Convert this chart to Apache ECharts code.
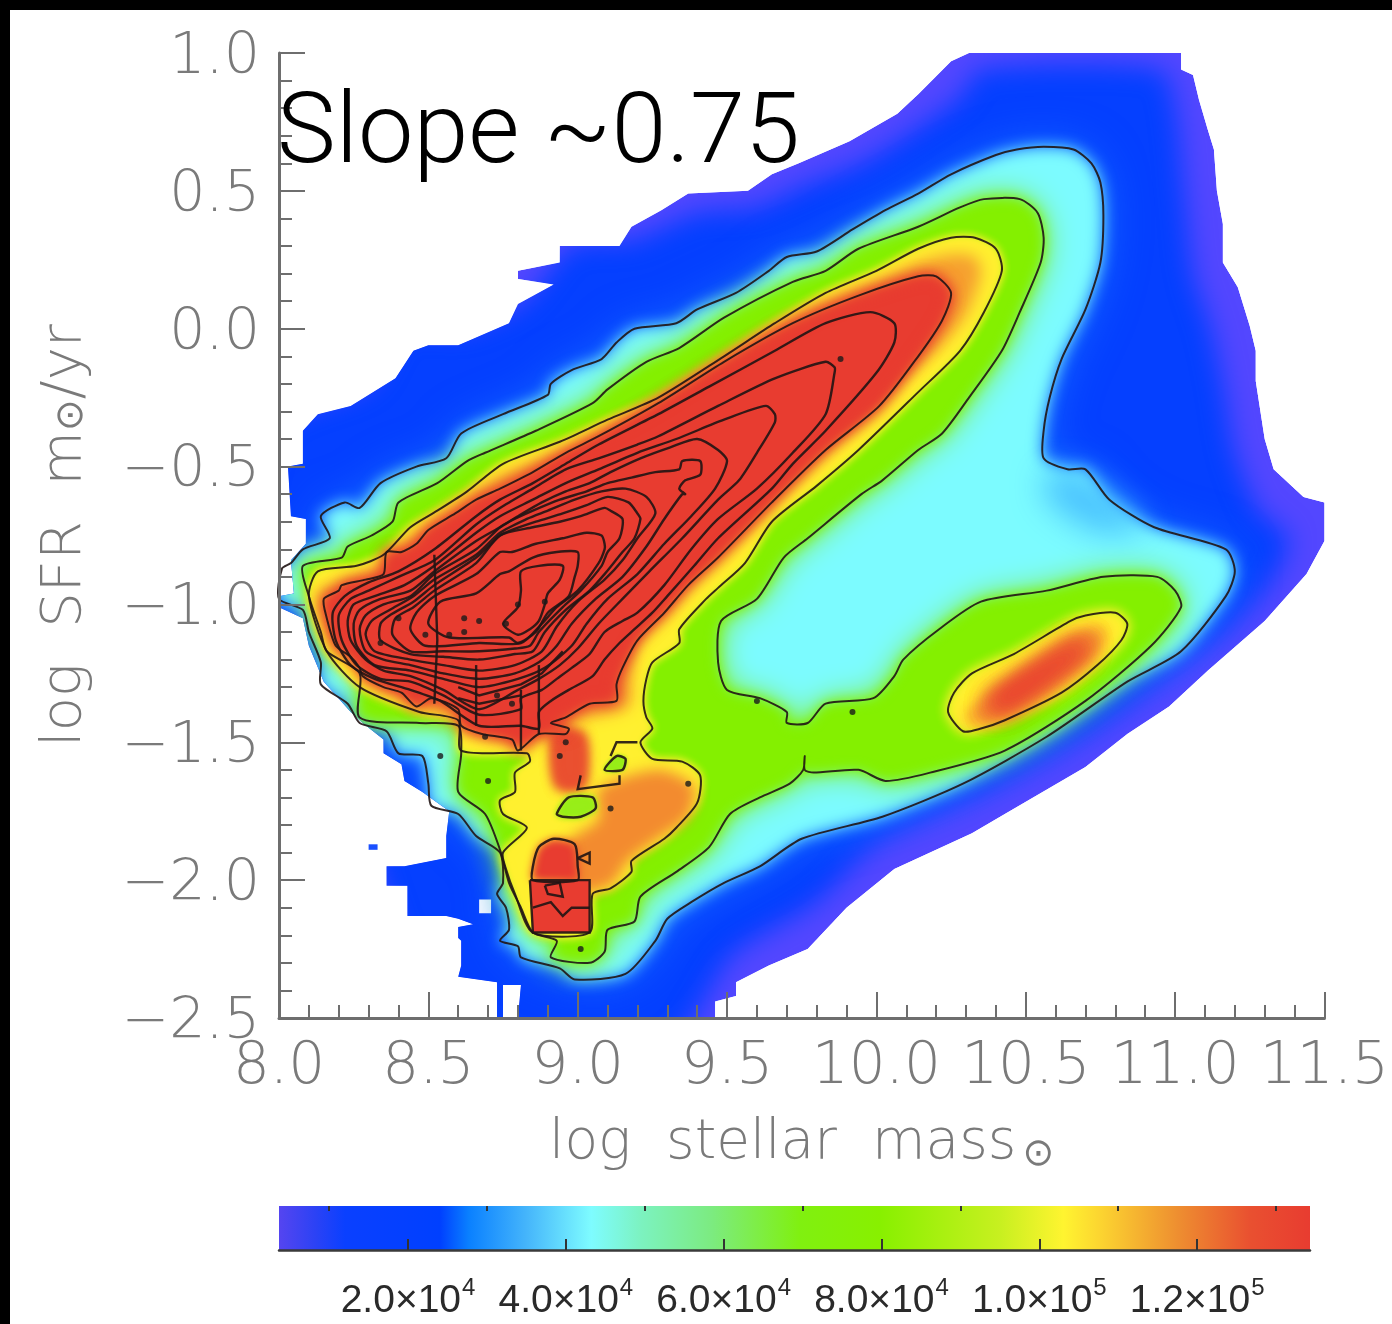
<!DOCTYPE html>
<html><head><meta charset="utf-8">
<style>html,body{margin:0;padding:0;background:#fff}#c{width:1392px;height:1324px}</style>
<script src="https://cdn.jsdelivr.net/npm/echarts@6/dist/echarts.min.js"></script>
</head><body><div id="c"></div>
<script>
// Data: [log stellar mass, log SFR]
const boundary=[[8.08,-.37],[8.13,-.31],[8.24,-.28],[8.39,-.18],[8.45,-.08],[8.50,-.06],[8.60,-.06],[8.77,.02],[8.80,.09],[8.92,.16],[8.80,.18],[8.80,.21],[8.94,.24],[8.94,.30],[9.14,.30],[9.18,.37],[9.28,.43],[9.37,.49],[9.57,.50],[9.65,.56],[9.74,.60],[9.91,.68],[10.07,.78],[10.14,.85],[10.25,.97],[10.31,1],[11.02,1],[11.02,.94],[11.06,.92],[11.08,.83],[11.11,.72],[11.13,.65],[11.14,.50],[11.16,.38],[11.16,.24],[11.21,.15],[11.25,.01],[11.27,-.08],[11.27,-.19],[11.30,-.40],[11.33,-.51],[11.43,-.61],[11.50,-.63],[11.50,-.77],[11.44,-.89],[11.30,-1.06],[11.11,-1.24],[10.98,-1.37],[10.84,-1.47],[10.70,-1.59],[10.43,-1.76],[10.32,-1.83],[10.06,-1.96],[9.90,-2.10],[9.77,-2.25],[9.64,-2.31],[9.53,-2.37],[9.53,-2.42],[9.46,-2.44],[9.46,-2.50],[8.80,-2.50],[8.81,-2.38],[8.75,-2.38],[8.75,-2.50],[8.73,-2.50],[8.73,-2.37],[8.60,-2.35],[8.61,-2.31],[8.61,-2.22],[8.60,-2.21],[8.60,-2.17],[8.65,-2.16],[8.60,-2.14],[8.56,-2.13],[8.43,-2.13],[8.43,-2.02],[8.36,-2.02],[8.36,-1.95],[8.42,-1.95],[8.56,-1.92],[8.56,-1.84],[8.57,-1.75],[8.48,-1.68],[8.42,-1.64],[8.41,-1.58],[8.35,-1.54],[8.35,-1.49],[8.28,-1.43],[8.24,-1.39],[8.15,-1.28],[8.10,-1.15],[8.08,-1.05],[8.00,-1.01],[8.00,-.97],[8.05,-.96],[8.04,-.84],[8.09,-.78],[8.09,-.69],[8.04,-.68],[8.03,-.50],[8.08,-.49]];
const blueCore=[[8.0,-.35],[8.3,-.2],[8.42,0],[8.62,0],[8.82,.1],[8.98,.3],[9.18,.32],[9.4,.42],[9.6,.44],[9.76,.52],[9.95,.6],[10.1,.7],[10.28,.84],[10.35,.94],[10.95,.94],[11.0,.8],[11.03,.5],[11.06,.2],[11.12,0],[11.16,-.2],[11.2,-.45],[11.28,-.66],[11.38,-.76],[11.32,-.92],[11.17,-1.1],[11.0,-1.24],[10.75,-1.44],[10.4,-1.66],[10,-1.87],[9.8,-2.08],[9.52,-2.27],[9.3,-2.6],[8.6,-2.6],[8.4,-2.2],[8.3,-1.9],[8.0,-1.3],[7.9,-.9]];
const contour1=[[8.04,-.85],[8.08,-.80],[8.17,-.76],[8.14,-.68],[8.22,-.63],[8.27,-.65],[8.34,-.56],[8.46,-.50],[8.56,-.47],[8.61,-.38],[8.75,-.31],[8.90,-.24],[8.91,-.20],[8.98,-.15],[9.08,-.11],[9.13,-.05],[9.19,0],[9.33,.02],[9.40,.07],[9.53,.13],[9.64,.21],[9.70,.26],[9.80,.28],[9.92,.36],[10.03,.43],[10.14,.49],[10.25,.56],[10.40,.63],[10.47,.65],[10.56,.66],[10.66,.65],[10.72,.60],[10.75,.53],[10.76,.41],[10.75,.24],[10.70,.07],[10.62,-.11],[10.58,-.25],[10.56,-.37],[10.56,-.47],[10.64,-.51],[10.70,-.51],[10.78,-.62],[10.93,-.72],[11.17,-.80],[11.20,-.88],[11.17,-.97],[11.02,-1.17],[10.84,-1.28],[10.57,-1.48],[10.29,-1.65],[10.02,-1.77],[9.75,-1.85],[9.61,-1.95],[9.49,-2.01],[9.38,-2.08],[9.30,-2.14],[9.26,-2.22],[9.16,-2.34],[8.99,-2.36],[8.94,-2.32],[8.81,-2.28],[8.80,-2.24],[8.74,-2.22],[8.77,-2.18],[8.76,-2.10],[8.73,-2.05],[8.75,-2.01],[8.74,-1.90],[8.66,-1.84],[8.60,-1.76],[8.51,-1.73],[8.50,-1.65],[8.48,-1.55],[8.40,-1.54],[8.36,-1.46],[8.27,-1.43],[8.23,-1.36],[8.14,-1.29],[8.14,-1.21],[8.10,-1.10],[8.08,-1.02],[8.00,-.98],[8.01,-.87]];
const contour2=[[8.08,-.86],[8.21,-.83],[8.23,-.79],[8.31,-.75],[8.38,-.70],[8.40,-.63],[8.53,-.56],[8.63,-.48],[8.69,-.45],[8.86,-.37],[9.05,-.27],[9.10,-.22],[9.23,-.12],[9.34,-.07],[9.49,.04],[9.72,.17],[9.83,.21],[9.94,.29],[10.14,.37],[10.28,.44],[10.36,.47],[10.48,.47],[10.54,.42],[10.56,.33],[10.55,.24],[10.48,.06],[10.42,-.08],[10.31,-.25],[10.22,-.38],[10.14,-.44],[10.02,-.55],[9.95,-.60],[9.77,-.76],[9.69,-.83],[9.60,-.98],[9.48,-1.06],[9.47,-1.21],[9.50,-1.31],[9.61,-1.34],[9.70,-1.39],[9.70,-1.43],[9.77,-1.43],[9.83,-1.36],[9.99,-1.34],[10.06,-1.26],[10.09,-1.20],[10.21,-1.09],[10.35,-.99],[10.57,-.95],[10.76,-.90],[10.94,-.90],[11.00,-.95],[11.02,-1.01],[10.92,-1.15],[10.70,-1.35],[10.43,-1.53],[10.18,-1.61],[10.03,-1.64],[9.94,-1.60],[9.79,-1.61],[9.76,-1.60],[9.76,-1.55],[9.755,-1.60],[9.71,-1.65],[9.61,-1.70],[9.51,-1.76],[9.44,-1.88],[9.33,-1.97],[9.21,-2.06],[9.19,-2.15],[9.10,-2.18],[9.09,-2.26],[9.04,-2.30],[8.91,-2.28],[8.93,-2.22],[8.85,-2.19],[8.81,-2.10],[8.77,-2.01],[8.74,-1.89],[8.69,-1.76],[8.60,-1.68],[8.61,-1.54],[8.60,-1.44],[8.47,-1.43],[8.27,-1.41],[8.27,-1.25],[8.16,-1.17],[8.14,-1.10],[8.10,-.97]];
const contour3=[[9.47,-.94],[9.43,-.98],[9.34,-1.09],[9.34,-1.14],[9.25,-1.21],[9.23,-1.27],[9.22,-1.35],[9.23,-1.41],[9.25,-1.45],[9.21,-1.50],[9.25,-1.56],[9.35,-1.57],[9.41,-1.62],[9.40,-1.72],[9.33,-1.81],[9.29,-1.85],[9.18,-1.93],[9.18,-1.97],[9.11,-2.03],[9.05,-2.05],[9.04,-2.19],[8.85,-2.19],[8.79,-2.05],[8.76,-1.96],[8.75,-1.90],[8.83,-1.81],[8.75,-1.76],[8.74,-1.71],[8.79,-1.68],[8.79,-1.61],[8.84,-1.57],[8.83,-1.54],[8.61,-1.53],[8.60,-1.42],[8.47,-1.39],[8.27,-1.30],[8.16,-1.17],[8.10,-.97],[8.13,-.88],[8.26,-.86],[8.35,-.82],[8.44,-.72],[8.53,-.66],[8.63,-.59],[8.75,-.49],[8.94,-.41],[9.10,-.33],[9.27,-.25],[9.49,-.10],[9.66,.02],[9.83,.13],[10.00,.21],[10.14,.29],[10.25,.33],[10.33,.33],[10.40,.29],[10.42,.21],[10.36,.06],[10.28,-.08],[10.14,-.23],[9.94,-.44],[9.80,-.57],[9.65,-.70],[9.56,-.85]];
const orangeBand=[[9.49,-.11],[9.66,.01],[9.83,.10],[10.0,.17],[10.14,.24],[10.25,.27],[10.33,.26],[10.35,.2],[10.30,.05],[10.2,-.08],[10.06,-.2],[9.88,-.38],[9.72,-.55],[9.55,-.74],[9.42,-.86],[9.3,-1.0],[9.2,-1.1],[9.18,-1.25],[9.17,-1.37],[9.0,-1.42],[8.8,-1.5],[8.6,-1.43],[8.4,-1.33],[8.2,-1.16],[8.13,-.96],[8.3,-.88],[8.42,-.77],[8.55,-.67],[8.75,-.53],[9.0,-.42],[9.27,-.26]];
const contour4=[[10.14,-.10],[10.01,-.28],[9.83,-.44],[9.65,-.63],[9.47,-.83],[9.37,-.93],[9.29,-1.03],[9.20,-1.13],[9.15,-1.23],[9.13,-1.29],[9.13,-1.35],[9.04,-1.36],[8.96,-1.41],[8.91,-1.43],[8.97,-1.45],[8.96,-1.47],[8.87,-1.47],[8.80,-1.53],[8.78,-1.49],[8.68,-1.47],[8.61,-1.44],[8.60,-1.38],[8.51,-1.34],[8.46,-1.37],[8.41,-1.32],[8.35,-1.30],[8.28,-1.26],[8.27,-1.23],[8.24,-1.19],[8.19,-1.15],[8.16,-1.05],[8.15,-.98],[8.20,-.95],[8.21,-.93],[8.29,-.91],[8.35,-.89],[8.36,-.81],[8.41,-.81],[8.46,-.78],[8.50,-.73],[8.59,-.67],[8.66,-.62],[8.74,-.58],[8.85,-.52],[8.96,-.45],[9.07,-.39],[9.27,-.27],[9.49,-.12],[9.72,.02],[9.94,.12],[10.14,.19],[10.20,.19],[10.25,.13],[10.22,.03]];
const passiveBlob=[[10.29,-1.46],[10.24,-1.39],[10.26,-1.32],[10.32,-1.25],[10.46,-1.18],[10.65,-1.06],[10.70,-1.04],[10.80,-1.03],[10.84,-1.07],[10.82,-1.13],[10.74,-1.22],[10.62,-1.32],[10.43,-1.42],[10.35,-1.45]];
const passiveBand=[[10.3,-1.42],[10.45,-1.28],[10.65,-1.13],[10.76,-1.09],[10.73,-1.17],[10.55,-1.33],[10.38,-1.42]];
const passivePeak=[[10.38,-1.36],[10.54,-1.24],[10.70,-1.13],[10.71,-1.15],[10.55,-1.28],[10.39,-1.39]];
const orangeLobe=[[9.07,-1.67],[9.27,-1.60],[9.39,-1.66],[9.37,-1.77],[9.27,-1.85],[9.17,-1.93],[9.11,-2.02],[8.97,-2.04],[8.97,-1.86],[9.07,-1.78]];
const orangeColumn=[[8.92,-1.47],[9.02,-1.47],[9.02,-1.66],[8.93,-1.66]];
const redSquare=[[8.84,-2.00],[9.04,-2.00],[9.04,-2.19],[8.85,-2.19],[8.84,-2.00]];
const redBlob=[[8.85,-2.00],[8.85,-1.95],[8.87,-1.88],[8.92,-1.85],[8.99,-1.87],[9.00,-1.95],[9.00,-2.00]];
const greenHoleA=[[8.93,-1.76],[8.97,-1.70],[9.05,-1.70],[9.06,-1.74],[9.01,-1.77],[8.95,-1.77]];
const greenHoleB=[[9.09,-1.60],[9.13,-1.55],[9.16,-1.56],[9.15,-1.60]];
const paleNotch=[[10.57,-.52],[10.70,-.53],[10.90,-.72],[10.74,-.74],[10.57,-.62]];
const whitePatch=[[8.67,-2.07],[8.71,-2.07],[8.71,-2.12],[8.67,-2.12]];
const ring1=[[10.06,.02],[9.98,.06],[9.83,.02],[9.66,-.08],[9.44,-.21],[9.27,-.31],[9.07,-.42],[8.96,-.49],[8.85,-.56],[8.74,-.62],[8.66,-.68],[8.52,-.80],[8.40,-.88],[8.30,-.92],[8.22,-.97],[8.18,-1.03],[8.19,-1.13],[8.24,-1.22],[8.32,-1.27],[8.44,-1.31],[8.54,-1.35],[8.67,-1.44],[8.81,-1.44],[8.87,-1.45],[8.87,-1.39],[8.91,-1.35],[8.97,-1.31],[9.05,-1.26],[9.09,-1.20],[9.14,-1.14],[9.19,-1.09],[9.25,-1.03],[9.30,-.97],[9.39,-.86],[9.47,-.76],[9.65,-.58],[9.72,-.49],[9.83,-.37],[10.00,-.16],[10.06,-.05]];
const ring2=[[9.86,-.14],[9.83,-.12],[9.66,-.18],[9.47,-.28],[9.27,-.39],[9.20,-.42],[9.07,-.47],[8.96,-.51],[8.85,-.58],[8.74,-.65],[8.66,-.71],[8.52,-.84],[8.40,-.90],[8.30,-.95],[8.24,-.98],[8.20,-1.04],[8.21,-1.13],[8.26,-1.22],[8.34,-1.27],[8.44,-1.28],[8.55,-1.33],[8.67,-1.40],[8.81,-1.38],[8.81,-1.34],[8.88,-1.31],[8.93,-1.27],[8.98,-1.23],[9.04,-1.18],[9.09,-1.10],[9.15,-1.06],[9.20,-1.03],[9.29,-.93],[9.38,-.80],[9.47,-.69],[9.60,-.58],[9.72,-.45],[9.83,-.31],[9.86,-.16]];
const ring3=[[9.66,-.31],[9.63,-.28],[9.49,-.33],[9.33,-.40],[9.20,-.45],[9.07,-.51],[8.96,-.56],[8.85,-.62],[8.74,-.68],[8.66,-.74],[8.52,-.86],[8.42,-.93],[8.32,-.97],[8.25,-1.00],[8.23,-1.06],[8.24,-1.13],[8.29,-1.20],[8.35,-1.24],[8.44,-1.26],[8.55,-1.31],[8.67,-1.38],[8.80,-1.31],[8.87,-1.27],[8.94,-1.22],[9.00,-1.16],[9.07,-1.07],[9.15,-.98],[9.24,-.88],[9.35,-.76],[9.47,-.62],[9.54,-.55],[9.60,-.45],[9.66,-.34]];
const ring4=[[9.50,-.48],[9.47,-.44],[9.40,-.40],[9.31,-.43],[9.21,-.47],[9.11,-.52],[9.04,-.56],[8.96,-.59],[8.88,-.63],[8.80,-.68],[8.74,-.72],[8.66,-.77],[8.52,-.88],[8.44,-.95],[8.34,-.98],[8.27,-1.02],[8.25,-1.07],[8.26,-1.15],[8.32,-1.22],[8.44,-1.24],[8.55,-1.27],[8.67,-1.30],[8.80,-1.27],[8.89,-1.23],[8.98,-1.15],[9.03,-1.07],[9.10,-.98],[9.20,-.89],[9.29,-.78],[9.38,-.68],[9.46,-.58]];
const ring5=[[9.34,-.51],[9.26,-.52],[9.18,-.54],[9.10,-.56],[9.03,-.59],[8.94,-.62],[8.85,-.66],[8.77,-.70],[8.74,-.72],[8.66,-.80],[8.52,-.89],[8.44,-.97],[8.35,-1.00],[8.29,-1.04],[8.27,-1.09],[8.29,-1.17],[8.35,-1.20],[8.44,-1.22],[8.55,-1.25],[8.67,-1.27],[8.79,-1.25],[8.87,-1.21],[8.93,-1.15],[8.98,-1.07],[9.06,-.98],[9.15,-.90],[9.23,-.79],[9.29,-.69],[9.35,-.60],[9.36,-.60],[9.34,-.58],[9.36,-.55],[9.41,-.53],[9.41,-.48],[9.35,-.48]];
const ring6=[[9.26,-.67],[9.23,-.61],[9.16,-.58],[9.08,-.59],[8.99,-.62],[8.90,-.66],[8.83,-.69],[8.74,-.74],[8.66,-.82],[8.52,-.91],[8.45,-.97],[8.37,-1.02],[8.31,-1.06],[8.29,-1.11],[8.32,-1.17],[8.44,-1.20],[8.55,-1.22],[8.67,-1.24],[8.79,-1.22],[8.88,-1.17],[8.93,-1.08],[9.00,-.99],[9.09,-.91],[9.15,-.84],[9.20,-.76]];
const ring7=[[9.20,-.67],[9.17,-.63],[9.10,-.61],[9.03,-.64],[8.95,-.67],[8.86,-.70],[8.78,-.73],[8.74,-.75],[8.66,-.83],[8.52,-.93],[8.45,-.99],[8.37,-1.04],[8.34,-1.07],[8.34,-1.13],[8.44,-1.18],[8.55,-1.19],[8.67,-1.20],[8.79,-1.18],[8.85,-1.17],[8.89,-1.10],[8.96,-1.02],[9.04,-.95],[9.09,-.89],[9.15,-.81],[9.19,-.76],[9.21,-.69]];
const ring8=[[9.15,-.69],[9.11,-.66],[9.09,-.65],[9.01,-.68],[8.94,-.70],[8.85,-.72],[8.74,-.75],[8.66,-.85],[8.52,-.95],[8.45,-1.01],[8.39,-1.05],[8.38,-1.11],[8.44,-1.17],[8.55,-1.17],[8.67,-1.17],[8.79,-1.16],[8.84,-1.15],[8.87,-1.10],[8.95,-1.01],[9.01,-.95],[9.08,-.86],[9.10,-.81],[9.14,-.76]];
const ring9=[[9.09,-.78],[9.08,-.75],[9.03,-.74],[8.95,-.76],[8.86,-.78],[8.78,-.81],[8.74,-.81],[8.66,-.89],[8.52,-.97],[8.46,-1.03],[8.44,-1.09],[8.49,-1.15],[8.67,-1.14],[8.81,-1.14],[8.88,-1.07],[8.93,-1.01],[9.00,-.95],[9.07,-.85],[9.09,-.80]];
const ring10=[[9.00,-.81],[8.93,-.81],[8.85,-.83],[8.77,-.88],[8.74,-.89],[8.66,-.96],[8.54,-.99],[8.50,-1.07],[8.57,-1.12],[8.77,-1.12],[8.80,-1.14],[8.86,-1.10],[8.90,-1.03],[8.97,-.97],[8.99,-.90],[9.00,-.86]];
const ring11=[[8.95,-.86],[8.87,-.86],[8.81,-.88],[8.81,-.95],[8.80,-1.01],[8.75,-1.07],[8.80,-1.11],[8.84,-1.09],[8.87,-1.06],[8.89,-1.00],[8.90,-.96],[8.94,-.91]];
const squareInnerA=[[8.85,-2.10],[8.91,-2.08],[8.95,-2.13],[8.98,-2.10],[9.04,-2.10]];
const squareInnerB=[[8.89,-2.02],[8.94,-2.01],[8.95,-2.06],[8.90,-2.05],[8.89,-2.02]];
const smallTriangle=[[9.00,-1.92],[9.04,-1.90],[9.04,-1.94],[9.00,-1.92]];
const lowA=[[8.60,-1.30],[8.67,-1.33],[8.81,-1.29],[8.88,-1.25],[8.95,-1.17]];
const lowB=[[8.60,-1.34],[8.67,-1.36],[8.81,-1.33]];
const stripeA=[[8.52,-.82],[8.53,-1.13],[8.52,-1.36]];
const stripeB=[[8.66,-1.22],[8.66,-1.44]];
const stripeC=[[8.81,-1.31],[8.81,-1.53]];
const stripeD=[[8.87,-1.22],[8.87,-1.47]];
const linkA=[[9.01,-1.62],[9.00,-1.67],[9.14,-1.65],[9.14,-1.62]];
const linkB=[[9.11,-1.55],[9.13,-1.50],[9.20,-1.50]];
const specks=[[8.40,-1.05],[8.34,-1.14],[8.49,-1.11],[8.57,-1.11],[8.62,-1.05],[8.67,-1.06],[8.62,-1.10],[8.80,-1.00],[8.89,-.99],[8.76,-1.07],[8.73,-1.33],[8.78,-1.36],[8.69,-1.48],[8.94,-1.55],[8.96,-1.50],[9.37,-1.65],[9.11,-1.74],[8.54,-1.55],[8.70,-1.64],[9.60,-1.35],[9.92,-1.39],[9.88,-.11],[9.01,-2.25]];
const blueSpeck=[[8.30,-1.87],[8.33,-1.87],[8.33,-1.89],[8.30,-1.89]];
const colorbarRange=[3650,134300];
const colorbarStops=[[0,'#5545f0'],[.036,'#2b42f5'],[.064,'#0a40ff'],[.156,'#0040ff'],[.184,'#0a80ff'],[.24,'#45b5fb'],[.303,'#7efcff'],[.351,'#7cf2c0'],[.42,'#7ceb80'],[.505,'#80f010'],[.583,'#88f000'],[.70,'#c8f020'],[.761,'#fff430'],[.796,'#fcd530'],[.871,'#ee8f30'],[.942,'#e95030'],[1,'#e83c30']];
const colorbarMajor=[20000,40000,60000,80000,100000,120000];
const colorbarMinor=[10000,30000,50000,70000,90000,110000,130000];

const fills=[
 {p:boundary,c:'#5347ff',b:0},
 {p:blueCore,c:'#0540ff',b:26},
 {p:whitePatch,c:'#ffffff',b:0},
 {p:contour1,c:'rgba(30,130,255,.75)',b:44},
 {p:contour1,c:'#7cfbff',b:15},
 {p:paleNotch,c:'rgba(70,190,255,.9)',b:30},
 {p:contour2,c:'#84f000',b:32},
 {p:contour2,c:'#84f000',b:14},
 {p:contour3,c:'#fff030',b:10},
 {p:contour3,c:'#fff030',b:10},
 {p:orangeBand,c:'#f6a030',b:15},
 {p:orangeLobe,c:'rgba(242,128,48,.9)',b:14},
 {p:orangeColumn,c:'#ea5030',b:12},
 {p:orangeColumn,c:'#ea5030',b:12},
 {p:contour4,c:'#e83c30',b:15},
 {p:contour4,c:'#e83c30',b:15},
 {p:redBlob,c:'#e83c30',b:8},
 {p:redSquare,c:'#e83c30',b:0},
 {p:greenHoleA,c:'#98ee18',b:6},
 {p:greenHoleA,c:'#98ee18',b:6},
 {p:greenHoleB,c:'#98ee18',b:4},
 {p:greenHoleB,c:'#98ee18',b:4},
 {p:passiveBlob,c:'#fff030',b:13},
 {p:passiveBlob,c:'#fff030',b:13},
 {p:passiveBand,c:'#f6a030',b:16},
 {p:passiveBand,c:'#f6a030',b:16},
 {p:passivePeak,c:'#e83c30',b:24},
 {p:passivePeak,c:'#e83c30',b:24},
 {p:passivePeak,c:'#e83c30',b:24},
 {p:passivePeak,c:'#e83c30',b:24}
];
const outlines=[contour1,contour2,contour3,contour4,passiveBlob,ring1,ring2,ring3,ring4,ring5,ring6,ring7,ring8,ring9,ring10,ring11,redBlob,greenHoleA,greenHoleB];
const openLines=[stripeA,stripeB,stripeC,stripeD,linkA,linkB,redSquare,squareInnerA,squareInnerB,smallTriangle,lowA,lowB];

const OFF=4000;
const axisGrey='#6e6e6e', labelGrey='#7a7a7a';
const thin='"DejaVu Sans"';
const ch=echarts.init(document.getElementById('c'),null,{renderer:'canvas'});
const fmt=v=>v.toFixed(1).replace('-','\u2212');
const cbLabel=v=>{const e=Math.floor(Math.log10(v));return '{a|'+(v/Math.pow(10,e)).toFixed(1)+'\u00d710}{s|'+e+'}';};
ch.setOption({
 animation:false,backgroundColor:'#ffffff',
 grid:[{left:279,top:53,width:1050,height:965},{left:279,top:1206,width:1031,height:44}],
 xAxis:[
  {gridIndex:0,type:'value',min:8,max:11.5,interval:.5,z:10,
   axisLine:{show:true,onZero:false,lineStyle:{color:axisGrey,width:3}},
   axisTick:{show:true,inside:true,length:26,lineStyle:{color:axisGrey,width:2}},
   minorTick:{show:true,splitNumber:5,length:13,lineStyle:{color:axisGrey,width:2}},
   splitLine:{show:false},
   axisLabel:{margin:21,color:labelGrey,fontFamily:thin,fontWeight:200,fontSize:58,formatter:fmt,hideOverlap:false,showMinLabel:true,showMaxLabel:true},
   name:'{t|log  stellar  mass}{b|\u2299}',nameLocation:'middle',nameGap:96,
   nameTextStyle:{rich:{t:{color:labelGrey,fontFamily:thin,fontWeight:200,fontSize:55},b:{color:labelGrey,fontFamily:thin,fontSize:38,padding:[22,0,0,6]}}}},
  {gridIndex:1,type:'value',min:colorbarRange[0],max:colorbarRange[1],z:10,
   axisLine:{show:true,onZero:false,lineStyle:{color:'#3a3a3a',width:2.5}},
   axisTick:{show:true,inside:true,length:11,customValues:colorbarMajor,lineStyle:{color:'#333',width:2}},
   splitLine:{show:false},
   axisLabel:{show:true,customValues:colorbarMajor,margin:26,formatter:cbLabel,hideOverlap:false,
    rich:{a:{color:'#2a2a2a',fontFamily:'"Liberation Sans"',fontSize:39},s:{color:'#2a2a2a',fontFamily:'"Liberation Sans"',fontSize:24,verticalAlign:'top',padding:[0,0,26,1]}}}},
  {gridIndex:1,type:'value',min:colorbarRange[0],max:colorbarRange[1],z:10,
   axisLine:{show:false,onZero:false},
   axisTick:{show:true,inside:true,length:5,customValues:colorbarMinor,lineStyle:{color:'#333',width:2}},
   splitLine:{show:false},axisLabel:{show:false}}
 ],
 yAxis:[
  {gridIndex:0,type:'value',min:-2.5,max:1,interval:.5,z:10,
   axisLine:{show:true,onZero:false,lineStyle:{color:axisGrey,width:3}},
   axisTick:{show:true,inside:true,length:26,lineStyle:{color:axisGrey,width:2}},
   minorTick:{show:true,splitNumber:5,length:13,lineStyle:{color:axisGrey,width:2}},
   splitLine:{show:false},
   axisLabel:{margin:19,formatter:v=>'{v|'+fmt(v)+'}',hideOverlap:false,showMinLabel:true,showMaxLabel:true,
    rich:{v:{color:labelGrey,fontFamily:thin,fontWeight:200,fontSize:57,padding:[10,0,0,0]}}},
   name:'{t|log  SFR  m}{b|\u2299}{t|/yr}',nameLocation:'middle',nameGap:186,nameRotate:90,
   nameTextStyle:{rich:{t:{color:labelGrey,fontFamily:thin,fontWeight:200,fontSize:56},b:{color:labelGrey,fontFamily:thin,fontSize:38,padding:[14,0,0,0]}}}},
  {gridIndex:1,type:'value',min:0,max:1,show:false}
 ],
 graphic:[
  {type:'rect',z:200,shape:{x:0,y:0,width:1392,height:10},style:{fill:'#000'}},
  {type:'rect',z:200,shape:{x:0,y:0,width:10,height:1324},style:{fill:'#000'}},
  {type:'text',z:200,left:277,top:88,style:{text:'Slope ~0.75',fill:'#000',font:'300 99px Roboto, "Liberation Sans"'}}
 ],
 series:[
  {type:'custom',xAxisIndex:0,yAxisIndex:0,silent:true,clip:false,z:2,
   data:fills.map((f,i)=>[i]),encode:{x:0,y:0},
   renderItem(params,api){
    const f=fills[api.value(0)];
    const clipPts=boundary.map(p=>api.coord(p));
    const pts=f.p.map(p=>api.coord(p));
    const child=f.b
      ? {type:'polygon',shape:{points:pts.map(q=>[q[0]-OFF,q[1]]),smooth:.25},style:{fill:'#000',shadowBlur:f.b,shadowColor:f.c,shadowOffsetX:OFF}}
      : {type:'polygon',shape:{points:pts},style:{fill:f.c}};
    return {type:'group',clipPath:{type:'polygon',shape:{points:clipPts}},children:[child]};
   }},
  {type:'custom',xAxisIndex:0,yAxisIndex:0,silent:true,clip:false,z:3,
   data:[[0]],encode:{x:0,y:0},
   renderItem(params,api){
    return {type:'polygon',shape:{points:blueSpeck.map(p=>api.coord(p))},style:{fill:'#1a50ff'}};
   }},
  {type:'custom',xAxisIndex:0,yAxisIndex:0,silent:true,clip:false,z:4,
   data:outlines.map((o,i)=>[i]),encode:{x:0,y:0},
   renderItem(params,api){
    const i=api.value(0);
    const pts=outlines[i].map(p=>api.coord(p));
    return {type:'polygon',shape:{points:pts,smooth:.25},style:{fill:'none',stroke:'#201414',lineWidth:i>=5?2.4:2,lineJoin:'round',opacity:.9}};
   }},
  {type:'custom',xAxisIndex:0,yAxisIndex:0,silent:true,clip:false,z:4,
   data:openLines.map((o,i)=>[i]),encode:{x:0,y:0},
   renderItem(params,api){
    const pts=openLines[api.value(0)].map(p=>api.coord(p));
    return {type:'polyline',shape:{points:pts},style:{fill:'none',stroke:'#201414',lineWidth:2.4,opacity:.9}};
   }},
  {type:'scatter',xAxisIndex:0,yAxisIndex:0,silent:true,z:5,symbolSize:6,itemStyle:{color:'#1a1a1a'},data:specks},
  {type:'custom',xAxisIndex:1,yAxisIndex:1,silent:true,z:2,data:[colorbarRange],encode:{x:[0,1]},
   renderItem(params,api){
    const a=api.coord([api.value(0),1]),b=api.coord([api.value(1),0]);
    return {type:'rect',shape:{x:a[0],y:a[1],width:b[0]-a[0],height:b[1]-a[1]},
     style:{fill:new echarts.graphic.LinearGradient(0,0,1,0,colorbarStops.map(s=>({offset:s[0],color:s[1]})))}};
   }},
  {type:'scatter',xAxisIndex:2,yAxisIndex:1,silent:true,symbolSize:0,data:[]}
 ]
});
</script></body></html>
